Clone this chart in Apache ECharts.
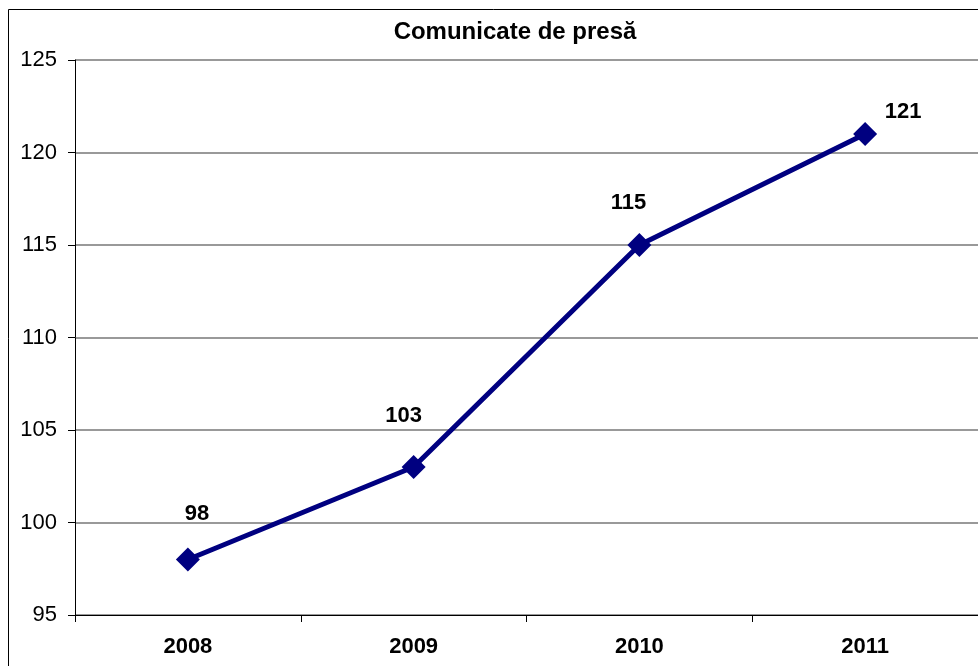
<!DOCTYPE html>
<html>
<head>
<meta charset="utf-8">
<script src="https://cdn.jsdelivr.net/npm/echarts@6/dist/echarts.min.js"></script>
<style>
html,body{margin:0;padding:0;background:#fff;}
#chart{width:978px;height:666px;}
</style>
</head>
<body>
<div id="chart"></div>
<script>
var titleText = 'Comunicate de presă';
var categories = ['2008', '2009', '2010', '2011'];
var values = [98, 103, 115, 121];
var labelOffsets = [[9, -46], [-10, -51], [-11, -42], [38, -22]];

var chart = echarts.init(document.getElementById('chart'));
var fontFam = '"Liberation Sans", Arial, sans-serif';
chart.setOption({
  animation: false,
  backgroundColor: '#fff',
  title: {
    text: titleText,
    left: 510, top: 15, textAlign: 'center',
    textStyle: {fontFamily: fontFam, fontSize: 24, fontWeight: 'bold', color: '#000'}
  },
  graphic: [{
    type: 'rect', silent: true,
    shape: {x: 8.5, y: 9.5, width: 1000, height: 700},
    style: {fill: 'none', stroke: '#000', lineWidth: 1}
  }],
  grid: {left: 75, top: 60, width: 905, height: 555},
  xAxis: {
    type: 'category',
    data: categories,
    boundaryGap: true,
    axisLine: {lineStyle: {color: '#000', width: 1}},
    axisTick: {show: true, interval: 0, length: 7, lineStyle: {color: '#000'}},
    axisLabel: {fontFamily: fontFam, fontSize: 22, fontWeight: 'bold', color: '#000', margin: 21}
  },
  yAxis: {
    type: 'value', min: 95, max: 125, interval: 5,
    axisLine: {show: true, lineStyle: {color: '#000', width: 1}},
    axisTick: {show: true, length: 7, lineStyle: {color: '#000'}},
    splitLine: {show: true, lineStyle: {color: '#777', width: 1.5}},
    axisLabel: {fontFamily: fontFam, fontSize: 22, color: '#000', margin: 18}
  },
  series: [{
    type: 'line',
    data: values.map(function (v, i) {
      return {value: v, label: {offset: labelOffsets[i]}};
    }),
    symbol: 'diamond',
    symbolSize: 24,
    lineStyle: {color: '#000080', width: 5},
    itemStyle: {color: '#000080'},
    label: {
      show: true, position: 'inside',
      fontFamily: fontFam, fontSize: 22, fontWeight: 'bold', color: '#000'
    },
    z: 5
  }]
});
</script>
</body>
</html>
